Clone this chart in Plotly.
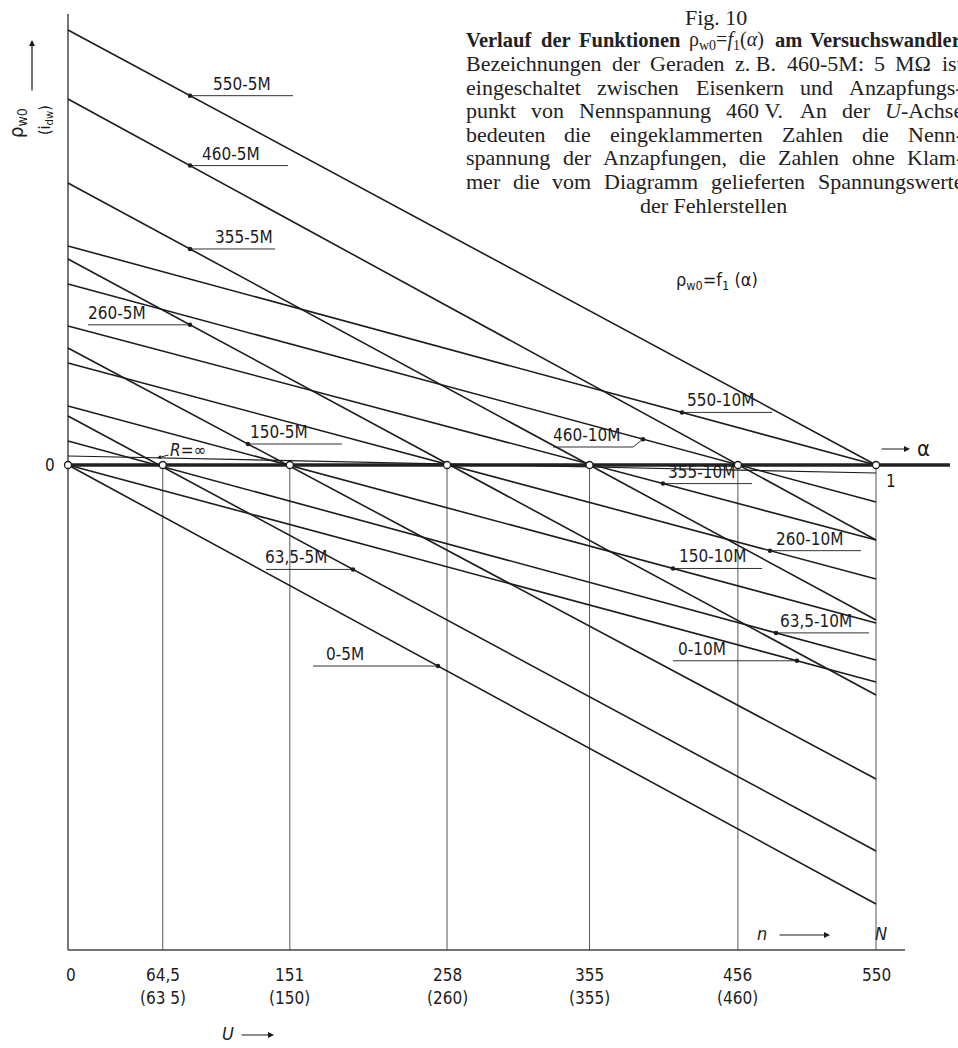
import plotly.graph_objects as go

# ---------------- data ----------------
tap_labels = ["550", "460", "355", "260", "150", "63,5", "0"]
U_fault = [550, 456, 355, 258, 151, 64.5, 0]          # zero crossings (fault voltages)
U_ends = [0, 550]
rho_5M_at_U0 = [4.35, 3.66, 2.82, 2.06, 1.17, 0.49, 0.00]
rho_5M_at_U550 = [0.00, -0.75, -1.55, -2.30, -3.14, -3.86, -4.39]
rho_10M_at_U0 = [2.19, 1.81, 1.39, 1.02, 0.59, 0.24, 0.00]
rho_10M_at_U550 = [0.00, -0.37, -0.75, -1.14, -1.58, -1.95, -2.17]
rho_Rinf = [0.09, -0.08]
tick_U = [0, 64.5, 151, 258, 355, 456, 550]
tick_main = ["0", "64,5", "151", "258", "355", "456", "550"]
tick_nominal = ["", "(63 5)", "(150)", "(260)", "(355)", "(460)", ""]

# ---------------- layout helpers (pixel placement of decorations) ----------------
W, H = 958, 1048
PX_L, PX_R, PY_0 = 68, 876, 465
PX_PER_U = (PX_R - PX_L) / 550.0
PX_PER_RHO = 100.0


def ux(px):
    return (px - PX_L) / PX_PER_U


def ry(py):
    return (PY_0 - py) / PX_PER_RHO


def ry_inv(r):
    return PY_0 - r * PX_PER_RHO


def line_val(u, a, b):
    return a + (b - a) * (u - U_ends[0]) / (U_ends[1] - U_ends[0])


INK = "#1c1c1c"
SANS = "Liberation Sans Narrow, DejaVu Sans Condensed, Roboto Condensed, Liberation Sans, sans-serif"
SERIF = "Liberation Serif, Times New Roman, serif"
LAB = 17

fig = go.Figure()
shapes = []
ann = []

# axes / frame
shapes.append(dict(type="line", x0=0, x1=0, y0=ry(950), y1=ry(14), line=dict(color=INK, width=1.2), layer="below"))
shapes.append(dict(type="line", x0=0, x1=ux(905), y0=ry(950), y1=ry(950), line=dict(color="#444", width=1.4), layer="below"))
for u in tick_U[1:]:
    shapes.append(dict(type="line", x0=u, x1=u, y0=0, y1=ry(950), line=dict(color="#444", width=0.9), layer="below"))
shapes.append(dict(type="line", x0=0, x1=ux(950), y0=0, y1=0, line=dict(color="#222", width=3.6), layer="below"))

# the families of straight lines
for a_list, b_list in [(rho_5M_at_U0, rho_5M_at_U550), (rho_10M_at_U0, rho_10M_at_U550)]:
    xs, ys = [], []
    for a, b in zip(a_list, b_list):
        xs += [U_ends[0], U_ends[1], None]
        ys += [a, b, None]
    fig.add_trace(go.Scatter(x=xs, y=ys, mode="lines", line=dict(color=INK, width=1.6),
                             hoverinfo="skip", showlegend=False))
fig.add_trace(go.Scatter(x=U_ends, y=rho_Rinf, mode="lines", line=dict(color=INK, width=1.2),
                         hoverinfo="skip", showlegend=False))

# ---------------- line labels with leaders ----------------
lab5_text = [(242, 80), (231, 152), (244, 236), (117, 315), (279, 433), (296, 560), (345, 652)]
lab5_under = [(190, 293), (190, 288), (190, 275), (88, 190), (248, 342), (266, 353), (313, 438)]
lab5_dot = [190, 190, 190, 190, 248, 353, 438]
lab10_text = [(720, 403), (586, 438), (701, 477), (809, 542), (712, 559), (816, 620), (702, 653)]
lab10_under = [(682, 772), (553, 633), (663, 752), (770, 861), (673, 762), (776, 869), (673, 797)]
lab10_dot = [682, 643, 663, 770, 673, 776, 797]

dot_x, dot_y = [], []
for suffix, a_list, b_list, tpos, und, dots in [
        ("-5M", rho_5M_at_U0, rho_5M_at_U550, lab5_text, lab5_under, lab5_dot),
        ("-10M", rho_10M_at_U0, rho_10M_at_U550, lab10_text, lab10_under, lab10_dot)]:
    for i, lab in enumerate(tap_labels):
        u0px, u1px = und[i]
        du = ux(dots[i])
        dv = line_val(du, a_list[i], b_list[i])
        dot_x.append(du)
        dot_y.append(dv)
        upy = ry_inv(dv)
        if suffix == "-10M" and lab == "460":
            upy = 447
            shapes.append(dict(type="line", x0=ux(u1px), x1=du, y0=ry(upy), y1=dv,
                               line=dict(color="#333", width=1.0), layer="below"))
        shapes.append(dict(type="line", x0=ux(u0px), x1=ux(u1px), y0=ry(upy), y1=ry(upy),
                           line=dict(color="#333", width=1.0), layer="below"))
        ann.append(dict(x=ux(tpos[i][0]), y=ry(upy), yshift=0, xanchor="center", yanchor="bottom",
                        text=lab + suffix, showarrow=False, font=dict(family=SANS, size=LAB, color=INK)))

fig.add_trace(go.Scatter(x=dot_x, y=dot_y, mode="markers", marker=dict(size=4.5, color=INK),
                         hoverinfo="skip", showlegend=False))
fig.add_trace(go.Scatter(x=U_fault, y=[0] * len(U_fault), mode="markers",
                         marker=dict(size=7, color="white", line=dict(color=INK, width=1.3)),
                         hoverinfo="skip", showlegend=False))

# R = infinity label
ann.append(dict(x=ux(157), y=ry(458), ax=ux(188), ay=ry(450), axref="x", ayref="y",
                text="<i>R</i>=∞", showarrow=True, arrowhead=2, arrowsize=0.8, arrowwidth=1,
                arrowcolor=INK, font=dict(family=SANS, size=LAB, color=INK)))

# ---------------- axis texts ----------------
for u, t1, t2 in zip(tick_U, tick_main, tick_nominal):
    xs = 3 if u == 0 else 0
    ann.append(dict(x=u, y=ry(975), xshift=xs, text=t1, showarrow=False,
                    font=dict(family=SANS, size=LAB, color=INK)))
    if t2:
        ann.append(dict(x=u, y=ry(998), text=t2, showarrow=False,
                        font=dict(family=SANS, size=LAB, color=INK)))

ann.append(dict(x=ux(50), y=0, text="0", showarrow=False, font=dict(family=SANS, size=LAB, color=INK)))
ann.append(dict(x=ux(891), y=ry(481), text="1", showarrow=False, font=dict(family=SANS, size=LAB, color=INK)))
ann.append(dict(x=ux(923), y=ry(448), text="α", showarrow=False, font=dict(family=SANS, size=22, color=INK)))
ann.append(dict(x=ux(762), y=ry(933), text="<i>n</i>", showarrow=False, font=dict(family=SANS, size=18, color=INK)))
ann.append(dict(x=ux(881), y=ry(933), text="<i>N</i>", showarrow=False, font=dict(family=SANS, size=18, color=INK)))
ann.append(dict(x=ux(228), y=ry(1033), text="<i>U</i>", showarrow=False, font=dict(family=SANS, size=18, color=INK)))
ann.append(dict(x=ux(17), y=ry(123), text="ρ<sub>w0</sub>", textangle=-90, showarrow=False,
                font=dict(family=SANS, size=20, color=INK)))
ann.append(dict(x=ux(45), y=ry(120), text="(i<sub>dw</sub>)", textangle=-90, showarrow=False,
                font=dict(family=SANS, size=16, color=INK)))
ann.append(dict(x=ux(717), y=ry(281), text="ρ<sub>w0</sub>=f<sub>1</sub> (α)", showarrow=False,
                font=dict(family=SANS, size=18, color=INK)))

# arrows
for (tx, ty, hx, hy) in [(880, 449, 910, 449), (32, 92, 32, 40), (778, 935, 830, 935), (240, 1035, 274, 1035)]:
    ann.append(dict(x=ux(hx), y=ry(hy), ax=ux(tx), ay=ry(ty), axref="x", ayref="y", text="",
                    showarrow=True, arrowhead=2, arrowsize=1, arrowwidth=1.2, arrowcolor=INK))

# ---------------- caption (justified, word by word) ----------------
REG = {' ': 250, 'a': 444, 'b': 500, 'c': 444, 'd': 500, 'e': 444, 'f': 333, 'g': 500, 'h': 500, 'i': 278,
       'j': 278, 'k': 500, 'l': 278, 'm': 778, 'n': 500, 'o': 500, 'p': 500, 'q': 500, 'r': 333, 's': 389,
       't': 278, 'u': 500, 'v': 500, 'w': 722, 'x': 500, 'y': 500, 'z': 444, 'A': 722, 'B': 667, 'D': 722,
       'E': 611, 'F': 556, 'G': 722, 'K': 722, 'M': 889, 'N': 722, 'S': 556, 'U': 722, 'V': 722, 'Z': 611,
       '.': 250, ',': 250, ':': 278, '-': 333, 'Ω': 768, '(': 333, ')': 333, '=': 564, '\u00a0': 250}
BOLD = {' ': 250, 'V': 722, 'e': 444, 'r': 444, 'l': 278, 'a': 500, 'u': 556, 'f': 333, 'd': 556, 'F': 611,
        'n': 556, 'k': 556, 't': 333, 'i': 278, 'o': 500, 'm': 833, 's': 389, 'c': 444, 'h': 556, 'w': 722}
for dgt in "0123456789":
    REG[dgt] = 500


def width_em(s, table):
    return sum(table.get(ch, 500) for ch in s) / 1000.0


CAP_SIZE = 22
BOLD_SIZE = 20.5
CAP_L, CAP_R = 465, 962
cap_font = dict(family=SERIF, size=CAP_SIZE, color="#222")
cap_bold = dict(family=SERIF, size=BOLD_SIZE, color="#222", weight="bold")
math_font = dict(family=SERIF, size=20, color="#222")


def justified(words, py):
    total = sum(w for _, w, _ in words)
    gap = (CAP_R - CAP_L - total) / (len(words) - 1)
    gap = max(gap, 4)
    x = CAP_L
    for html, w, f in words:
        ann.append(dict(x=ux(x), y=ry(py), xanchor="left", yanchor="middle", text=html,
                        showarrow=False, font=f, borderpad=0))
        x += w + gap


def plain_words(line, py, italic_map=None):
    italic_map = italic_map or {}
    ws = []
    for wd in line.split(" "):
        ws.append((italic_map.get(wd, wd), width_em(wd, REG) * CAP_SIZE, cap_font))
    justified(ws, py)


ann.append(dict(x=ux(716), y=ry(17), text="Fig. 10", showarrow=False, font=cap_font))
math_html = "ρ<sub>w0</sub>=<i>f</i><sub>1</sub>(<i>α</i>)"
bold_words = []
for wd in ["Verlauf", "der", "Funktionen", None, "am", "Versuchswandler"]:
    if wd is None:
        bold_words.append((math_html, 78, math_font))
    else:
        bold_words.append(("<b>" + wd + "</b>", width_em(wd, BOLD) * BOLD_SIZE, cap_bold))
justified(bold_words, 40)
plain_words("Bezeichnungen der Geraden z.\u00a0B. 460-5M: 5 MΩ ist", 63)
plain_words("eingeschaltet zwischen Eisenkern und Anzapfungs-", 87)
plain_words("punkt von Nennspannung 460\u00a0V. An der U-Achse", 110, {"U-Achse": "<i>U</i>-Achse"})
plain_words("bedeuten die eingeklammerten Zahlen die Nenn-", 134)
plain_words("spannung der Anzapfungen, die Zahlen ohne Klam-", 157)
plain_words("mer die vom Diagramm gelieferten Spannungswerte", 181)
ann.append(dict(x=ux(713), y=ry(205), text="der Fehlerstellen", showarrow=False, font=cap_font))

fig.update_layout(
    width=W, height=H, autosize=False,
    margin=dict(l=0, r=0, t=0, b=0),
    paper_bgcolor="white", plot_bgcolor="white",
    xaxis=dict(range=[ux(0), ux(W)], visible=False, fixedrange=True),
    yaxis=dict(range=[ry(H), ry(0)], visible=False, fixedrange=True),
    shapes=shapes, annotations=ann, showlegend=False,
)
fig.write_html("out.html", config={"displayModeBar": False},
               post_script="document.body.style.margin='0px';document.body.style.padding='0px';")
